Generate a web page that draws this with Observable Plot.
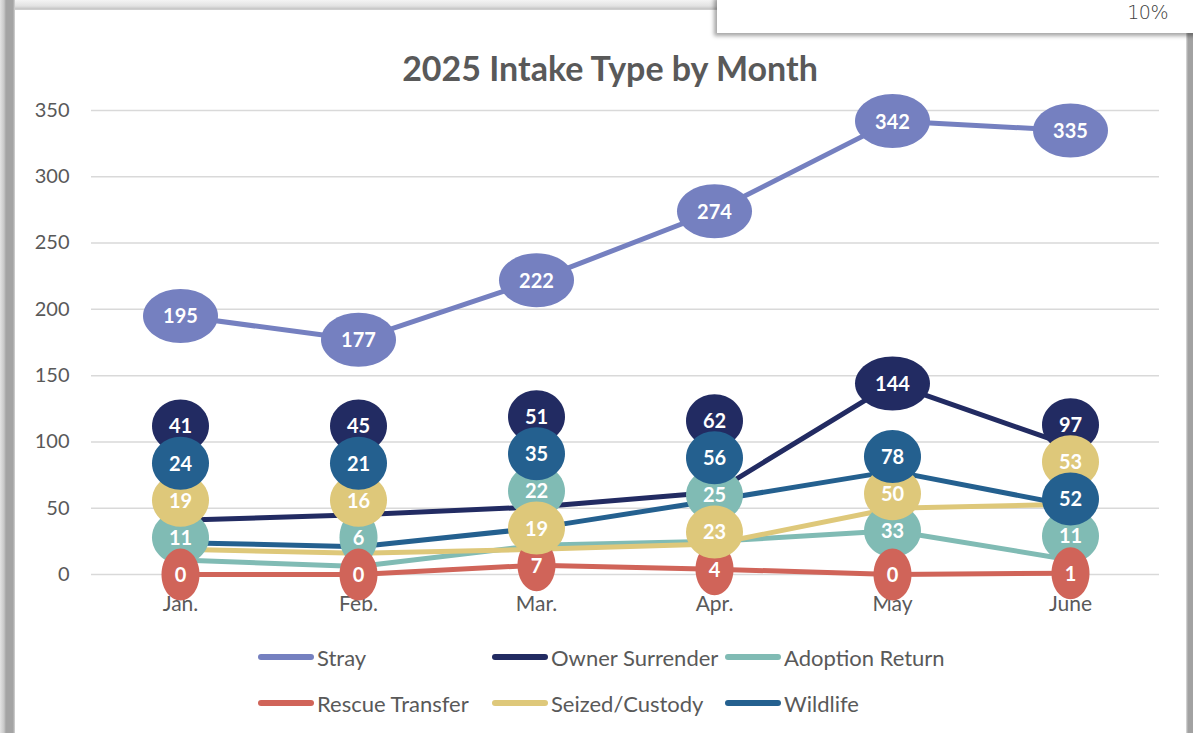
<!DOCTYPE html>
<html>
<head>
<meta charset="utf-8">
<script src="https://cdn.jsdelivr.net/npm/d3@7"></script>
<script src="https://cdn.jsdelivr.net/npm/@observablehq/plot@0.6"></script>
<style>
  html, body { margin: 0; padding: 0; background: #fff; }
  #wrap { position: relative; width: 1193px; height: 733px; overflow: hidden; background: #fff; font-family: Lato, "Noto Sans", sans-serif; }
  #leftbar { position: absolute; left: 0; top: 0; width: 15px; height: 733px;
    background: linear-gradient(to right, #e4e4e4 0px, #c8c8c8 4px, #a4a4a4 6px, #a4a4a4 13px, #d6d6d6 15px); }
  #topbar { position: absolute; left: 15px; top: 0; width: 710px; height: 10px;
    background: linear-gradient(to bottom, #f4f4f4 0px, #e2e2e2 6px, #c4c4c4 9px, #d8d8d8 10px); }
  #rightbar { position: absolute; left: 1186px; top: 30px; width: 7px; height: 703px;
    background: linear-gradient(to right, #e0e0e0 0px, #a2a2a2 2px, #a2a2a2 7px); }
  #pctbox { position: absolute; left: 717px; top: -5px; width: 500px; height: 38px; background: #fff;
    box-shadow: -3px 3px 4px rgba(0,0,0,0.35); }
  #pct { position: absolute; right: 49px; top: 6px; font-family: "DejaVu Sans", sans-serif; font-size: 19px; color: #404040; font-weight: 300; letter-spacing: -0.5px; }
  #title { position: absolute; left: 0; width: 1220px; top: 47px; text-align: center; font-size: 34px; font-weight: 700; color: #595959; }
  #chart { position: absolute; left: 0; top: 90px; }
  .leg { position: absolute; display: flex; align-items: center; font-size: 22px; color: #595959; height: 30px; }
  .leg .sw { width: 56px; height: 6px; border-radius: 3px; margin-right: 3px; }
</style>
</head>
<body>
<div id="wrap">
  <div id="leftbar"></div>
  <div id="topbar"></div>
  <div id="rightbar"></div>
  <div id="pctbox"><div id="pct">10%</div></div>
  <div id="title">2025 Intake Type by Month</div>
  <div id="chart"></div>
  <div id="legend"></div>
</div>
<script>
const months = ["Jan.", "Feb.", "Mar.", "Apr.", "May", "June"];
const seriesNames = ["Stray", "Owner Surrender", "Adoption Return", "Rescue Transfer", "Seized/Custody", "Wildlife"];
const stray = [195, 177, 222, 274, 342, 335];
const ownerSurrender = [41, 45, 51, 62, 144, 97];
const adoptionReturn = [11, 6, 22, 25, 33, 11];
const rescueTransfer = [0, 0, 7, 4, 0, 1];
const seizedCustody = [19, 16, 19, 23, 50, 53];
const wildlife = [24, 21, 35, 56, 78, 52];
const yTicks = [0, 50, 100, 150, 200, 250, 300, 350];

const seriesColors = ["#7580C0", "#222B62", "#80BBB4", "#D06459", "#DEC87A", "#24608F"];
const seriesValues = [stray, ownerSurrender, adoptionReturn, rescueTransfer, seizedCustody, wildlife];

// long table
const rows = [];
seriesNames.forEach((s, si) => {
  seriesValues[si].forEach((v, mi) => rows.push({series: s, si, month: months[mi], mi, value: v}));
});

// label placement: stack labels upward within each month to avoid overlap
const gap = 28;
for (let mi = 0; mi < months.length; mi++) {
  const group = rows.filter(r => r.mi === mi).sort((a, b) => a.value - b.value || a.si - b.si);
  let prev = -Infinity;
  for (const r of group) {
    r.labelY = Math.max(r.value, prev + gap);
    prev = r.labelY;
  }
}

function ellipse(rx, ry) {
  const k = 0.5523;
  return {
    draw(ctx) {
      ctx.moveTo(rx, 0);
      ctx.bezierCurveTo(rx, ry * k, rx * k, ry, 0, ry);
      ctx.bezierCurveTo(-rx * k, ry, -rx, ry * k, -rx, 0);
      ctx.bezierCurveTo(-rx, -ry * k, -rx * k, -ry, 0, -ry);
      ctx.bezierCurveTo(rx * k, -ry, rx, -ry * k, rx, 0);
      ctx.closePath();
    }
  };
}

const marks = [
  Plot.gridY(yTicks, {stroke: "#d9d9d9", strokeOpacity: 1, strokeWidth: 1.5}),
  Plot.axisY(yTicks, {tickSize: 0, tickPadding: 22, fontSize: 20, fill: "#595959"}),
  Plot.axisX({tickSize: 0, tickPadding: 22, fontSize: 21, fill: "#595959"}),
];
seriesNames.forEach((s, si) => {
  marks.push(Plot.line(rows.filter(r => r.si === si), {
    x: "month", y: "value", stroke: seriesColors[si], strokeWidth: 5, strokeLinecap: "round", strokeLinejoin: "round"
  }));
});
seriesNames.forEach((s, si) => {
  const data = rows.filter(r => r.si === si);
  marks.push(Plot.dot(data, {
    x: "month", y: "labelY", fill: seriesColors[si], stroke: "none",
    symbol: d => String(d.value).length
  }));
  marks.push(Plot.text(data, {
    x: "month", y: "labelY", text: d => String(d.value), fill: "white",
    fontSize: 20, fontWeight: 700, dy: 1
  }));
});

const chart = Plot.plot({
  width: 1193,
  height: 545,
  marginLeft: 91,
  marginRight: 34,
  marginTop: 20,
  marginBottom: 61,
  style: {fontFamily: "Lato, 'Noto Sans', sans-serif", background: "transparent", overflow: "visible"},
  x: {type: "band", domain: months, padding: 0, label: null},
  y: {domain: [0, 350], label: null},
  symbol: {domain: [1, 2, 3], range: [ellipse(19, 26), ellipse(28.5, 26.5), ellipse(37.5, 27)]},
  marks
});
document.getElementById("chart").appendChild(chart);

// legend
const legendPos = [[258, 642], [492, 642], [725, 642], [258, 688], [492, 688], [725, 688]];
const legend = document.getElementById("legend");
seriesNames.forEach((s, i) => {
  const item = document.createElement("div");
  item.className = "leg";
  item.style.left = legendPos[i][0] + "px";
  item.style.top = legendPos[i][1] + "px";
  const sw = document.createElement("div");
  sw.className = "sw";
  sw.style.background = seriesColors[i];
  const t = document.createElement("span");
  t.textContent = s;
  item.appendChild(sw);
  item.appendChild(t);
  legend.appendChild(item);
});
</script>
</body>
</html>
